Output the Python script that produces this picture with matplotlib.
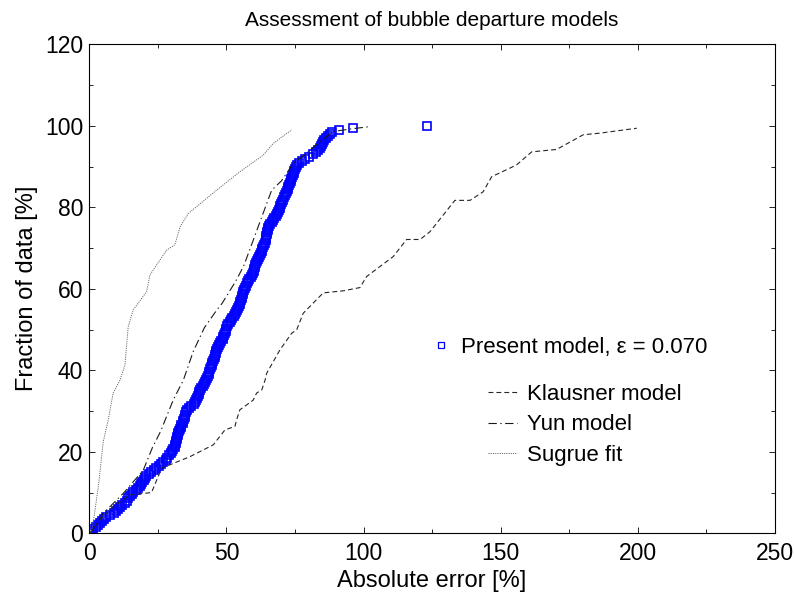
import numpy as np
import matplotlib
matplotlib.use("Agg")
import matplotlib.pyplot as plt
from matplotlib.lines import Line2D

plt.rcParams['font.family'] = ['Liberation Sans', 'DejaVu Sans']
plt.rcParams['lines.scale_dashes'] = False

# Sorted absolute errors of the present model [%]
present_err = [
    0.0, 0.7, 1.5, 2.4, 3.2, 4.0, 4.6, 5.3, 6.0, 7.6,
    9.0, 9.8, 10.4, 11.2, 12.0, 12.9, 13.8, 14.3, 14.8, 15.4,
    15.9, 16.9, 17.7, 18.6, 19.0, 19.4, 19.8, 20.2, 20.8, 21.7,
    22.6, 23.5, 24.5, 25.3, 26.2, 27.0, 27.8, 28.5, 29.2, 29.9,
    30.2, 30.7, 31.1, 31.4, 31.6, 31.8, 31.9, 32.1, 32.3, 32.5,
    32.7, 33.0, 33.3, 33.6, 34.0, 34.3, 34.6, 34.8, 35.0, 35.3,
    35.5, 36.3, 37.2, 38.2, 38.7, 39.0, 39.3, 39.6, 39.9, 40.1,
    40.4, 40.9, 41.3, 41.7, 42.2, 42.6, 43.0, 43.3, 43.6, 43.8,
    44.0, 44.3, 44.6, 44.9, 45.2, 45.4, 45.7, 46.0, 46.2, 46.3,
    46.6, 47.0, 47.4, 47.8, 48.2, 48.6, 48.9, 49.2, 49.4, 49.7,
    50.0, 50.3, 50.7, 51.2, 51.7, 52.1, 52.6, 53.0, 53.5, 53.9,
    54.1, 54.5, 54.8, 55.1, 55.4, 55.6, 55.8, 56.0, 56.2, 56.4,
    56.7, 57.1, 57.6, 58.0, 58.4, 58.8, 59.2, 59.6, 59.9, 60.2,
    60.3, 60.6, 60.9, 61.3, 61.6, 61.9, 62.2, 62.5, 62.8, 63.1,
    63.5, 63.8, 64.1, 64.3, 64.5, 64.6, 64.8, 64.9, 65.1, 65.2,
    65.5, 65.9, 66.5, 67.0, 67.5, 67.9, 68.3, 68.7, 69.0, 69.4,
    69.7, 70.0, 70.3, 70.6, 71.0, 71.3, 71.6, 72.0, 72.3, 72.6,
    72.9, 73.2, 73.5, 73.7, 73.9, 74.2, 74.5, 74.8, 75.1, 75.4,
    75.7, 76.5, 77.6, 78.6, 80.0, 81.4, 82.5, 83.5, 84.2, 84.5,
    84.8, 85.2, 85.6, 86.4, 87.1, 87.6, 88.6, 91.1, 96.0, 123.0,
]

# Klausner model
klausner_x = [0.3, 3.9, 8.7, 14.8, 22.7, 24.6, 26.4, 36.7, 45.2, 49.5, 53.1,
              53.7, 54.9, 59.8, 61.0, 62.9, 64.1, 64.7, 69.5, 73.8, 75.6, 78.0,
              85.3, 92.6, 98.7, 101.1, 110.8, 115.7, 120.6, 124.2, 133.3, 138.8,
              143.6, 146.7, 155.8, 161.3, 170.4, 180.1, 186.2, 199.6]
klausner_y = [0.0, 3.3, 6.5, 9.4, 10.0, 13.1, 16.0, 18.8, 21.7, 25.4, 26.2,
              27.8, 30.3, 32.7, 34.4, 35.2, 37.6, 39.3, 45.0, 49.1, 49.9, 54.0,
              59.0, 59.5, 60.3, 63.0, 67.9, 72.1, 72.1, 74.0, 81.7, 81.7,
              83.8, 87.5, 90.4, 93.6, 94.2, 97.8, 98.2, 99.4]

# Yun model
yun_x = [0.0, 2.5, 5.1, 12.4, 19.7, 23.0, 26.0, 30.6, 34.3, 37.9, 42.0, 46.5,
         48.5, 53.5, 56.3, 59.0, 62.0, 66.5, 70.1, 74.4, 79.3, 84.1, 89.0,
         95.0, 102.3]
yun_y = [0.0, 2.0, 4.9, 9.8, 15.5, 21.0, 25.0, 32.7, 37.6, 44.6, 50.5, 54.8,
         56.5, 62.0, 65.6, 70.5, 76.0, 84.2, 86.5, 90.8, 93.3, 96.1, 98.6,
         99.2, 99.8]

# Sugrue fit
sugrue_x = [0.5, 1.3, 3.3, 5.1, 6.9, 8.7, 11.2, 13.0, 14.2, 16.0, 20.9, 22.1,
            28.2, 31.2, 33.1, 36.1, 38.5, 46.4, 54.9, 63.4, 67.1, 73.8]
sugrue_y = [0.0, 2.0, 11.4, 22.5, 27.8, 34.4, 37.6, 41.3, 50.7, 54.8, 59.3,
            63.4, 69.5, 70.8, 75.2, 78.5, 79.8, 84.2, 88.7, 92.8, 95.7, 99.0]

# cumulative fraction of data points
n = len(present_err)
present_frac = np.arange(n) / (n - 1) * 100

fig = plt.figure(figsize=(7.95, 5.93), dpi=100)
ax = fig.add_axes([0.1123, 0.1007, 0.8625, 0.8246])

blue = '#0000ff'
ax.plot(present_err, present_frac, 's', color=blue, mfc='none', ms=6.2, mew=1.2)
ax.plot(klausner_x, klausner_y, color='0.15', lw=0.8, dashes=(3.5, 2.2))
ax.plot(yun_x, yun_y, color='0.1', lw=0.8, dashes=(6, 2.5, 1, 2.5))
ax.plot(sugrue_x, sugrue_y, color='0.4', lw=0.7, dashes=(0.8, 0.8))

ax.set_xlim(0, 250)
ax.set_ylim(0, 120)
ax.set_xticks(np.arange(0, 251, 50))
ax.set_yticks(np.arange(0, 121, 20))
ax.set_xticks(np.arange(0, 251, 25), minor=True)
ax.set_yticks(np.arange(0, 121, 10), minor=True)
ax.tick_params(which='both', direction='in', top=True, right=True,
               labelsize=16.5, width=0.6)
ax.tick_params(axis='x', pad=6)
ax.tick_params(axis='y', pad=4.5)
ax.tick_params(which='major', length=4)
ax.tick_params(which='minor', length=3)
for s in ax.spines.values():
    s.set_linewidth(0.8)

ax.set_title("Assessment of bubble departure models", fontsize=15, pad=13)
ax.set_xlabel("Absolute error [%]", fontsize=17, labelpad=4)
ax.set_ylabel("Fraction of data [%]", fontsize=17, labelpad=5)

# legend for the present model
h1 = [Line2D([], [], ls='none', marker='s', color=blue, mfc='none', ms=5, mew=0.9)]
fig.legend(h1, ["Present model, \u03b5 = 0.070"], loc='center left',
           bbox_to_anchor=(430 / 795, 1 - 347 / 593), frameon=False,
           fontsize=16, handlelength=1.0, handletextpad=0.4,
           borderpad=0, borderaxespad=0)

# legend for the reference correlations
h2 = [Line2D([], [], color='0.15', lw=0.8, dashes=(3.5, 2.2)),
      Line2D([], [], color='0.1', lw=0.8, dashes=(6, 2.5, 1, 2.5)),
      Line2D([], [], color='0.4', lw=0.7, dashes=(0.8, 0.8))]
fig.legend(h2, ["Klausner model", "Yun model", "Sugrue fit"], loc='center left',
           bbox_to_anchor=(488 / 795, 1 - 425 / 593), frameon=False,
           fontsize=16, handlelength=1.3, handletextpad=0.45,
           labelspacing=0.42, borderpad=0, borderaxespad=0)

fig.savefig("out.png", dpi=100)
